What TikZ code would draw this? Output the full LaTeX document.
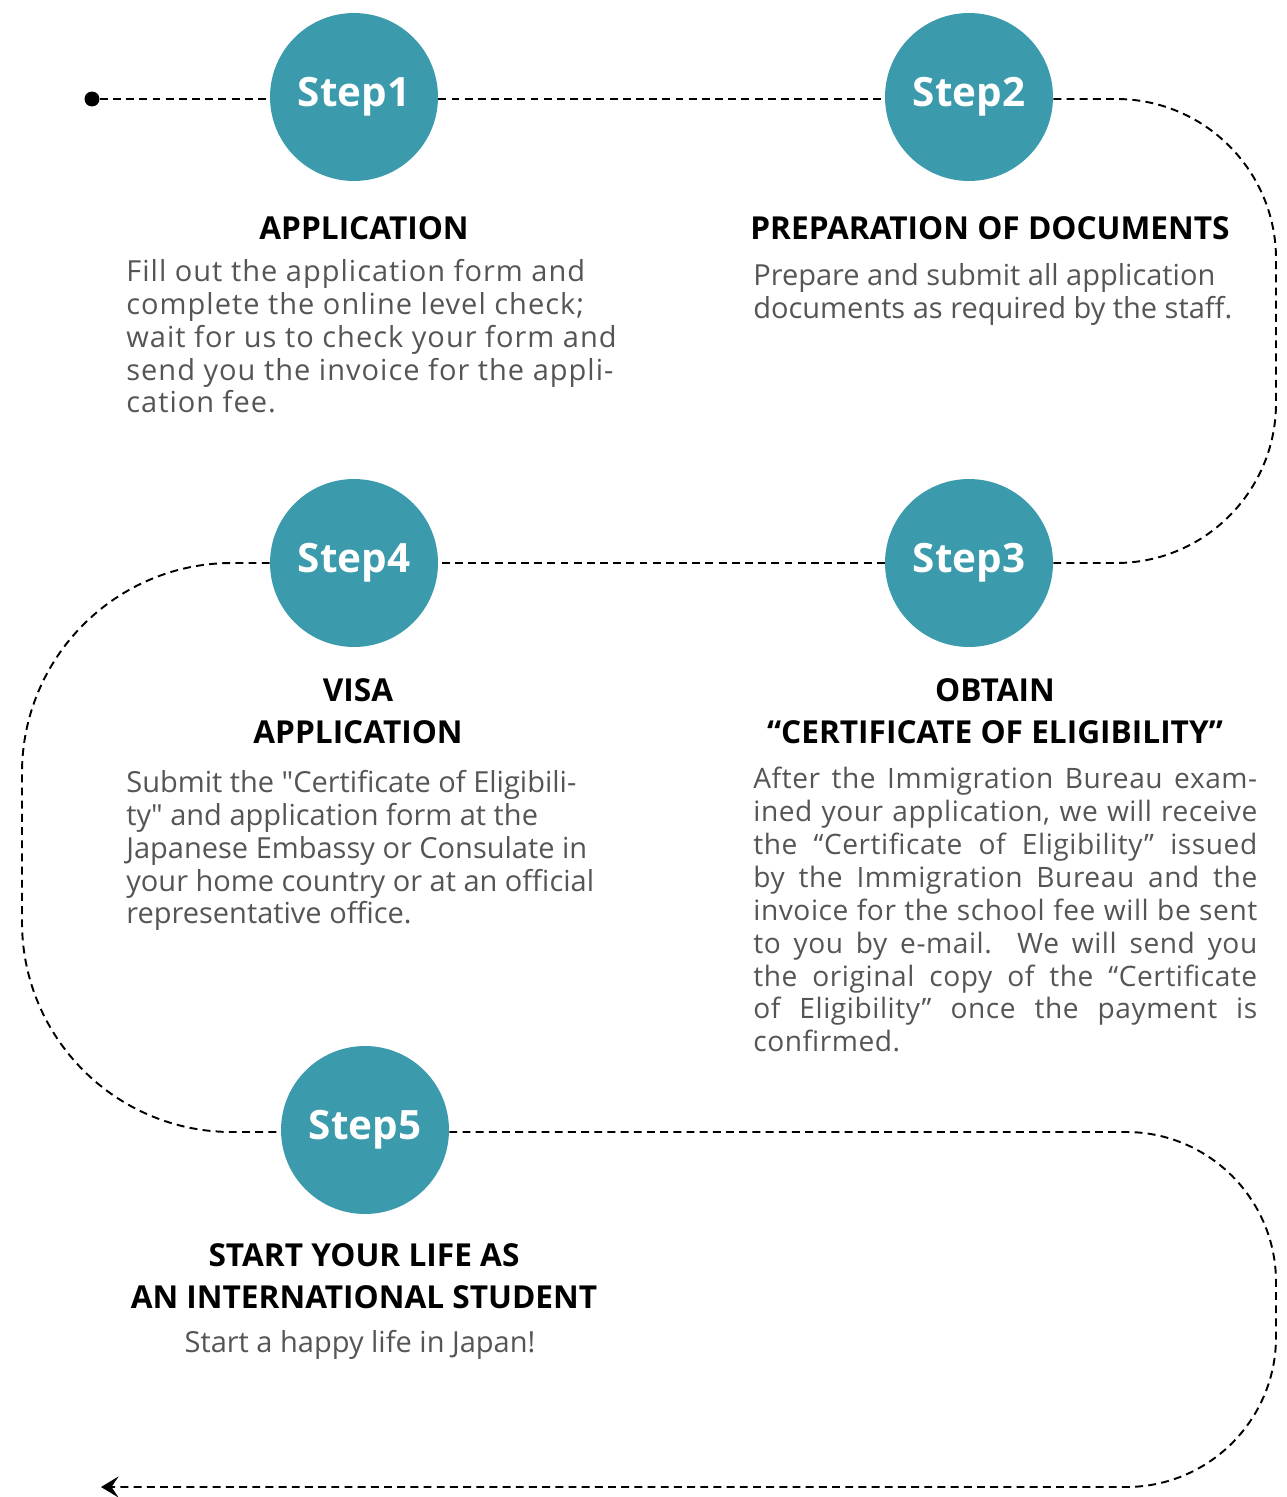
\documentclass[tikz,border=0pt]{standalone}
\usepackage{fontspec}
\setmainfont{Open Sans}
\usetikzlibrary{arrows.meta}

\definecolor{stepteal}{HTML}{3B9AAB}
\definecolor{bodygray}{HTML}{555555}
\newcommand{\fullline}[1]{\makebox[10.08cm][s]{#1}}

\begin{document}
\begin{tikzpicture}[x=0.02cm,y=-0.02cm,>/.tip={Stealth[length=10pt,width=12pt,inset=4pt]},
	stepnode/.style={shape=circle,fill=stepteal,minimum size=3.36cm,inner sep=0,text=white,font=\bfseries\fontsize{23}{28}\selectfont},
	headline/.style={align=center,font=\bfseries\fontsize{18}{24}\selectfont},
	bodytext/.style={anchor=north west,inner sep=0,text=bodygray,font=\fontsize{16.5}{18.7}\selectfont},
	widebody/.style={bodytext,font=\fontsize{16.5}{18.7}\selectfont\addfontfeature{LetterSpace=3.5}},
	trail/.style={line width=1.1pt,dash pattern=on 4.5pt off 3pt}]
	\useasboundingbox (0,0) rectangle (1287,1497);

	\draw (92,99) node (start) [circle,fill=black,inner sep=0,minimum size=0.3cm] {};
	\draw (354,97) node (step1) [stepnode] {Step1};
	\draw (969,97) node (step2) [stepnode] {Step2};
	\draw (969,563) node (step3) [stepnode] {Step3};
	\draw (354,563) node (step4) [stepnode] {Step4};
	\draw (365,1130) node (step5) [stepnode] {Step5};

	\coordinate (topright) at (1276,99);
	\coordinate (midright) at (1276,563);
	\coordinate (midleft) at (22,563);
	\coordinate (lowleft) at (22,1132);
	\coordinate (lowright) at (1276,1132);
	\coordinate (bottomright) at (1276,1487);
	\coordinate (finish) at (101,1487);

	\node [headline] at (364,228) {APPLICATION};
	\node [widebody,align=left] at (126,259) {Fill out the application form and\\complete the online level check;\\wait for us to check your form and\\send you the invoice for the appli-\\cation fee.};
	\node [headline] at (990,228) {PREPARATION OF DOCUMENTS};
	\node [bodytext,align=left] at (753,263) {Prepare and submit all application\\documents as required by the staff.};
	\node [headline] at (358,711) {VISA\\APPLICATION};
	\node [bodytext,align=left] at (126,770) {Submit the \textquotedbl Certificate of Eligibili-\\ty\textquotedbl{} and application form at the\\Japanese Embassy or Consulate in\\your home country or at an official\\representative office.};
	\node [headline] at (995,711) {OBTAIN\\“CERTIFICATE OF ELIGIBILITY”};
	\node [bodytext,align=left,font=\fontsize{16}{18.7}\selectfont\addfontfeature{LetterSpace=2}] at (753,767) {\fullline{After the Immigration Bureau exam-}\\\fullline{ined your application, we will receive}\\\fullline{the “Certificate of Eligibility” issued}\\\fullline{by the Immigration Bureau and the}\\\fullline{invoice for the school fee will be sent}\\\fullline{to you by e-mail. We will send you}\\\fullline{the original copy of the “Certificate}\\\fullline{of Eligibility” once the payment is}\\confirmed.};
	\node [headline] at (364,1276) {START YOUR LIFE AS\\AN INTERNATIONAL STUDENT};
	\node [text=bodygray,font=\fontsize{16.5}{18.7}\selectfont] at (360,1345) {Start a happy life in Japan!};

	\draw [trail] (start) -- (start -| step1.west);
	\draw [trail] (start -| step1.east) -- (start -| step2.west);
	\draw [trail,rounded corners=3.2cm] (start -| step2.east) -- (topright) -- (midright) -- (step3.east);
	\draw [trail] (step3) -- (step4);
	\draw [trail,rounded corners=4.2cm] (step4.west) -- (midleft) -- (lowleft) -- (lowleft -| step5.west);
	\draw [trail,->,rounded corners=3cm] (lowright -| step5.east) -- (lowright) -- (bottomright) -- (finish);
\end{tikzpicture}
\end{document}
